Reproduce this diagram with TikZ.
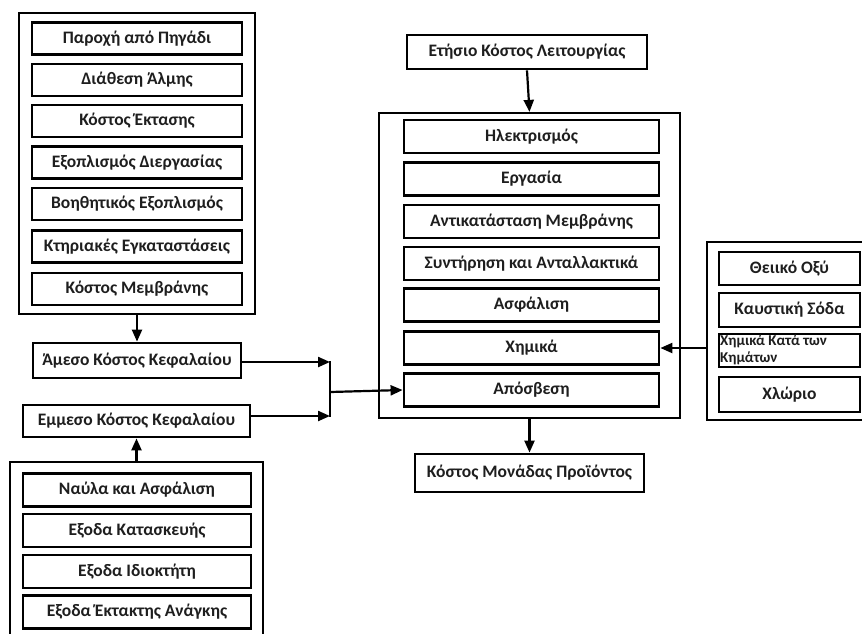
\documentclass[tikz,border=0pt]{standalone}
\usepackage{fontspec}
\setmainfont{Carlito}
\usetikzlibrary{arrows.meta}
\definecolor{ink}{HTML}{1E1E1E}
\begin{document}
\begin{tikzpicture}[x=1pt,y=-1pt,
  group/.style={draw=black,line width=2.2pt,inner sep=0pt},
  item/.style={draw=black,line width=2.8pt,inner sep=0pt,text=ink,
    font=\fontsize{17.5}{20}\selectfont\bfseries},
  link/.style={line width=2.2pt,-{Triangle[length=12pt,width=10pt]}},
  wire/.style={line width=2.2pt}]
\path[use as bounding box,clip] (0,0) rectangle (862,633);

% capital cost components (top left)
\node[group,minimum width=236pt,minimum height=301pt] (capbox) at (137,163.5) {};
\foreach \n/\y/\t in {c1/38.5/Παροχή από Πηγάδι, c2/80/Διάθεση Άλμης, c3/121/Κόστος Έκτασης,
  c4/162.5/Εξοπλισμός Διεργασίας, c5/204/Βοηθητικός Εξοπλισμός,
  c6/246.5/Κτηριακές Εγκαταστάσεις, c7/289/Κόστος Μεμβράνης}
  \node[item,minimum width=210pt,minimum height=32pt] (\n) at (137,\y) {\t};

\node[item,minimum width=208pt,minimum height=35pt] (direct) at (137,360.5) {Άμεσο Κόστος Κεφαλαίου};
\node[item,minimum width=227pt,minimum height=32pt] (indirect) at (136.5,421) {Εμμεσο Κόστος Κεφαλαίου};

% indirect cost components (bottom left)
\node[group,minimum width=253pt,minimum height=196pt] (indbox) at (136.5,560) {};
\foreach \n/\y/\t in {i1/490/Ναύλα και Ασφάλιση, i2/530.5/Εξοδα Κατασκευής,
  i3/571.5/Εξοδα Ιδιοκτήτη, i4/612/Εξοδα Έκτακτης Ανάγκης}
  \node[item,minimum width=228pt,minimum height=33pt] (\n) at (137,\y) {\t};

% annual operating cost
\node[item,minimum width=240pt,minimum height=34pt] (annual) at (527,52) {Ετήσιο Κόστος Λειτουργίας};
\node[group,minimum width=301pt,minimum height=305pt] (opbox) at (529.5,265.5) {};
\foreach \n/\y/\t in {o1/136.5/Ηλεκτρισμός, o2/179/Εργασία, o3/221.5/Αντικατάσταση Μεμβράνης,
  o4/263.5/Συντήρηση και Ανταλλακτικά, o5/305/Ασφάλιση, o6/348/Χημικά, o7/390/Απόσβεση}
  \node[item,minimum width=255pt,minimum height=33pt] (\n) at (531.5,\y) {\t};

\node[item,minimum width=229pt,minimum height=38pt] (unit) at (529.5,473) {Κόστος Μονάδας Προϊόντος};

% chemicals (right)
\node[group,minimum width=193pt,minimum height=178pt] (chembox) at (803.5,331) {};
\node[item,minimum width=141pt,minimum height=33pt] (h1) at (789.5,268.5) {Θειικό Οξύ};
\node[item,minimum width=141pt,minimum height=34pt] (h2) at (789.5,310) {Καυστική Σόδα};
\node[item,minimum width=141pt,minimum height=33pt] (h3) at (789.5,350.5) {};
\node[anchor=north west,inner sep=0pt,align=left,text=ink,
  font=\fontsize{15}{17}\selectfont\bfseries] (h3text) at (720,335) {Χημικά Κατά των\\Κημάτων};
\node[item,minimum width=141pt,minimum height=35pt] (h4) at (789.5,394.5) {Χλώριο};

% connectors
\coordinate (jx) at (330,392);
\draw[link] (capbox.south) -- (direct.north);
\draw[link] (indbox.north) -- (indirect.south);
\draw[link] (direct.east |- 0,362) -- (330,362);
\draw[link] (indirect.east |- 0,416) -- (330,416);
\draw[wire] (330,361) -- (330,417);
\draw[link] (jx) -- (o7.west);
\draw[link] (annual.south) -- (opbox.north);
\draw[link] (opbox.south) -- (unit.north);
\draw[link] (chembox.west |- o6.east) -- (o6.east);
\end{tikzpicture}
\end{document}
